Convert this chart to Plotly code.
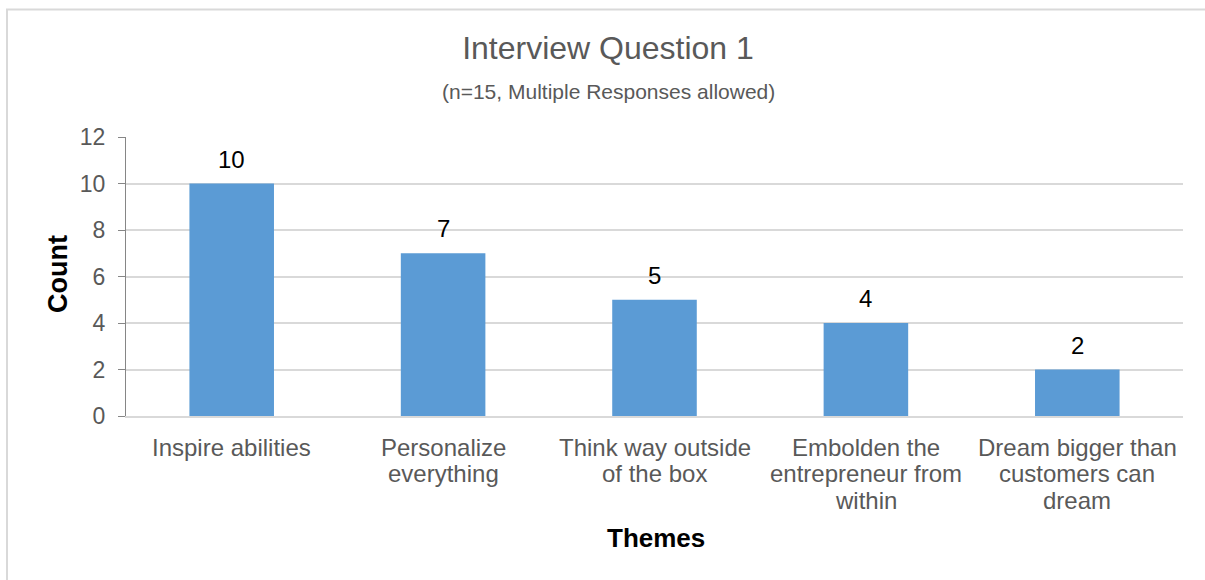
import plotly.graph_objects as go

categories = ["Inspire abilities", "Personalize\neverything", "Think way outside\nof the box",
              "Embolden the\nentrepreneur from\nwithin", "Dream bigger than\ncustomers can\ndream"]
counts = [10, 7, 5, 4, 2]
y_ticks = [0, 2, 4, 6, 8, 10, 12]

W, H = 1205, 580
L, R, T, B = 126, 22, 137, 164
pw, ph = W - L - R, H - T - B

def px(x):
    return (x - L) / pw

def py(y):
    return (H - B - y) / ph

FONT = "Liberation Sans, Arial, sans-serif"
GRAY = "#595959"

fig = go.Figure()
fig.add_trace(go.Bar(x=categories, y=counts, marker=dict(color="#5B9BD5", line=dict(width=0)),
                     width=0.4, hoverinfo="skip"))

# data labels
for c, v in zip(categories, counts):
    fig.add_annotation(x=c, y=v, text=str(v), showarrow=False, yanchor="bottom", yshift=9,
                       font=dict(family=FONT, size=24, color="#000000"))

# category labels (wrapped, tight line spacing)
for c in categories:
    for i, line in enumerate(c.split("\n")):
        fig.add_annotation(x=c, xref="x", yref="paper", y=py(447 + 26.8 * i), text=line,
                           showarrow=False, yanchor="middle", xanchor="center",
                           font=dict(family=FONT, size=24, color=GRAY))

fig.add_annotation(xref="paper", yref="paper", x=px(608), y=py(91), text="(n=15, Multiple Responses allowed)",
                   showarrow=False, font=dict(family=FONT, size=21, color=GRAY), yanchor="middle")

fig.add_annotation(xref="paper", yref="paper", x=px(656), y=py(538), text="<b>Themes</b>",
                   showarrow=False, font=dict(family=FONT, size=26, color="#000000"), yanchor="middle")

fig.add_annotation(xref="paper", yref="paper", x=px(58), y=py(274), text="<b>Count</b>", textangle=-90,
                   showarrow=False, font=dict(family=FONT, size=27, color="#000000"),
                   yanchor="middle", xanchor="center")

# outer chart border (left and top visible)
fig.add_shape(type="path", xref="paper", yref="paper",
              path=f"M {px(7)} {py(600)} L {px(7)} {py(9.5)} L {px(1230)} {py(9.5)}",
              line=dict(color="#d9d9d9", width=2))

fig.update_layout(
    width=W, height=H,
    margin=dict(l=L, r=R, t=T, b=B),
    paper_bgcolor="white", plot_bgcolor="white",
    showlegend=False,
    bargap=0.6,
    title=dict(text="Interview Question 1", x=608 / W, xref="container", xanchor="center",
               y=1 - 48 / H, yanchor="middle", yref="container",
               font=dict(family=FONT, size=32, color=GRAY)),
    xaxis=dict(showline=True, linecolor="#d9d9d9", linewidth=2, showgrid=False,
               ticks="", showticklabels=False),
    yaxis=dict(range=[0, 12], tickvals=y_ticks, showline=True, linecolor="#868686", linewidth=1,
               showgrid=True, gridcolor="#d9d9d9", gridwidth=1.5, zeroline=False,
               ticks="outside", ticklen=7, tickcolor="#868686", ticklabelstandoff=8,
               tickfont=dict(family=FONT, size=23, color=GRAY)),
)

fig.write_html("out.html")
